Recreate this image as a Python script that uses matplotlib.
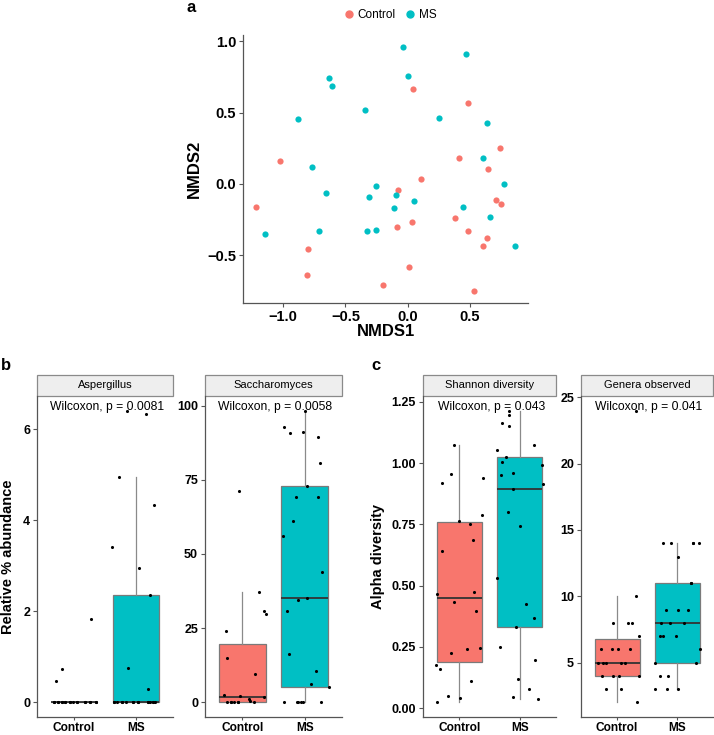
import matplotlib
matplotlib.use('Agg')
import matplotlib.pyplot as plt
import numpy as np
from matplotlib.patches import Rectangle
from matplotlib.lines import Line2D

plt.rcParams['font.family'] = ['Liberation Sans', 'DejaVu Sans']

# ---------------- data ----------------
groups = ['Control', 'MS']

ctrl_nmds1 = [0.04, 0.49, 0.74, 0.41, -1.03, -1.22, -0.075, 0.11, 0.645, 0.71, 0.75, 0.38, 0.035,
              -0.083, 0.49, 0.64, 0.61, -0.80, -0.81, 0.01, -0.196, 0.535]
ctrl_nmds2 = [0.67, 0.57, 0.25, 0.18, 0.16, -0.16, -0.04, 0.035, 0.105, -0.115, -0.14, -0.24, -0.27,
              -0.30, -0.33, -0.38, -0.435, -0.46, -0.64, -0.58, -0.71, -0.75]
ms_nmds1 = [-0.04, 0.47, -0.63, -0.61, 0.0, -0.34, -0.88, 0.25, 0.64, 0.61, -0.77, -0.66, -0.25,
            -0.31, -0.094, -0.11, 0.05, 0.775, 0.446, 0.66, -1.15, -0.71, -0.33, -0.25, 0.865]
ms_nmds2 = [0.96, 0.91, 0.745, 0.69, 0.76, 0.52, 0.455, 0.46, 0.43, 0.18, 0.12, -0.06, -0.016,
            -0.09, -0.08, -0.17, -0.12, -0.003, -0.16, -0.23, -0.35, -0.33, -0.33, -0.32, -0.435]

asp_ctrl = [0.46, 0.74, 1.83, 0, 0, 0, 0, 0, 0, 0, 0, 0, 0, 0, 0, 0, 0, 0, 0, 0, 0, 0]
asp_ctrl_jit = [-0.29, -0.20, 0.27, -0.32, -0.26, -0.20, -0.14, -0.07, -0.01, 0.05, 0.17, 0.25, 0.35,
                -0.32, -0.20, -0.07, 0.05, 0.17, 0.25, -0.14, -0.26, 0.35]
asp_ms = [6.41, 6.33, 4.96, 4.34, 3.42, 2.96, 2.36, 0.75, 0.29,
          0, 0, 0, 0, 0, 0, 0, 0, 0, 0, 0, 0, 0, 0, 0, 0]
asp_ms_jit = [-0.14, 0.16, -0.28, 0.30, -0.38, 0.05, 0.23, -0.12, 0.20,
              -0.36, -0.31, -0.23, -0.16, -0.05, 0.03, 0.19, 0.23, 0.28, 0.31, -0.36, -0.23, -0.05, 0.19, 0.28, 0.03]

sac_ctrl = [71.3, 37.3, 30.8, 29.7, 24.1, 15.0, 9.6, 2.4, 2.2, 1.9, 1.3, 0.6, 0, 0, 0, 0, 0, 0, 0]
sac_ctrl_jit = [-0.06, 0.27, 0.34, 0.38, -0.27, -0.25, 0.20, -0.29, -0.03, 0.35, 0.11, 0.12,
                -0.25, -0.19, -0.13, -0.07, 0.19, -0.19, -0.07]
sac_ms = [98.3, 92.8, 90.8, 91.1, 89.3, 80.7, 73.0, 69.3, 69.1, 61.1, 56.1, 44.0, 34.4, 35.3, 30.7,
          16.2, 10.6, 6.2, 5.1, 0.1, 0, 0, 0, 0, 0.3]
sac_ms_jit = [0.01, -0.33, -0.24, -0.02, 0.21, 0.25, 0.04, -0.14, 0.22, -0.18, -0.34, 0.28, -0.11, 0.03,
              -0.29, -0.25, 0.18, 0.11, 0.39, -0.33, -0.13, -0.10, -0.06, -0.03, 0.27]

sha_ctrl = [1.074, 0.954, 0.919, 0.938, 0.788, 0.762, 0.750, 0.687, 0.641, 0.466, 0.473, 0.431, 0.398,
            0.226, 0.241, 0.246, 0.176, 0.160, 0.112, 0.048, 0.042, 0.023]
sha_ctrl_jit = [-0.08, -0.13, -0.28, 0.39, 0.38, 0.0, 0.17, 0.23, -0.29, -0.37, 0.25, -0.09, 0.28,
                -0.13, 0.12, 0.34, -0.38, -0.32, 0.19, -0.18, 0.02, -0.37]
sha_ms = [1.214, 1.198, 1.163, 1.151, 1.075, 1.055, 1.026, 1.005, 0.993, 0.953, 0.958, 0.914, 0.894,
          0.801, 0.741, 0.531, 0.426, 0.368, 0.329, 0.251, 0.195, 0.117, 0.078, 0.047, 0.038]
sha_ms_jit = [-0.18, -0.17, -0.29, -0.17, 0.24, -0.37, -0.23, -0.29, 0.37, -0.31, -0.11, 0.38, -0.11,
              -0.20, 0.0, -0.37, 0.10, 0.23, -0.06, -0.32, 0.26, -0.03, 0.16, -0.11, 0.31]

gen_ctrl = [10, 8, 8, 8, 7, 6, 6, 6, 6, 5, 5, 5, 5, 5, 4, 4, 4, 4, 3, 3, 2, 24]
gen_ctrl_jit = [0.31, -0.07, 0.18, 0.25, 0.36, -0.27, -0.09, 0.01, 0.21, -0.32, -0.23, -0.19, 0.06, 0.14,
                -0.25, -0.06, 0.04, 0.36, -0.18, 0.07, 0.33, 0.32]
gen_ms = [14, 14, 14, 14, 13, 11, 9, 9, 9, 8, 8, 8, 7, 7, 7, 6, 5, 5, 4, 4, 3, 3, 3, 11, 14]
gen_ms_jit = [-0.23, -0.10, 0.26, 0.36, 0.01, 0.23, -0.19, 0.01, 0.19, -0.27, -0.11, 0.11, -0.28, -0.23,
              -0.02, 0.38, -0.36, 0.32, -0.29, -0.15, -0.36, -0.16, 0.01, 0.23, 0.26]

asp_ticks = [0, 2, 4, 6]
sac_ticks = [0, 25, 50, 75, 100]
sha_ticks = [0.0, 0.25, 0.5, 0.75, 1.0, 1.25]
gen_ticks = [5, 10, 15, 20, 25]

# ---------------- style ----------------
CTRL = '#F8766D'
MSC = '#00BFC4'
AXC = '#555555'
W, H = 714, 735
fig = plt.figure(figsize=(W / 100, H / 100), dpi=100)


def ax_px(l, r, t, b):
    return fig.add_axes([l / W, 1 - b / H, (r - l) / W, (b - t) / H])


def style_axes(ax, size, pad=2):
    for s in ['top', 'right']:
        ax.spines[s].set_visible(False)
    for s in ['left', 'bottom']:
        ax.spines[s].set_color(AXC)
        ax.spines[s].set_linewidth(0.9)
    ax.tick_params(colors=AXC, labelcolor='black', length=3, width=0.8, labelsize=size, pad=pad)
    for lab in ax.get_xticklabels() + ax.get_yticklabels():
        lab.set_fontweight('bold')


def expand(vals):
    lo, hi = min(vals), max(vals)
    r = hi - lo
    return lo - 0.05 * r, hi + 0.05 * r


# ---------------- panel a ----------------
ax = ax_px(243, 528, 35, 303)
ax.scatter(ctrl_nmds1, ctrl_nmds2, s=20, color=CTRL, linewidths=0, zorder=3)
ax.scatter(ms_nmds1, ms_nmds2, s=20, color=MSC, linewidths=0, zorder=3)
ax.set_xlim(*expand(ctrl_nmds1 + ms_nmds1))
ax.set_ylim(*expand(ctrl_nmds2 + ms_nmds2))
ax.set_xticks([-1.0, -0.5, 0.0, 0.5])
ax.set_yticks([-0.5, 0.0, 0.5, 1.0])
ax.set_xticklabels(['\u22121.0', '\u22120.5', '0.0', '0.5'])
ax.set_yticklabels(['\u22120.5', '0.0', '0.5', '1.0'])
style_axes(ax, 10.5)
ax.set_xlabel('NMDS1', fontsize=12, fontweight='bold', labelpad=0)
ax.set_ylabel('NMDS2', fontsize=12, fontweight='bold', labelpad=4)
handles = [Line2D([], [], marker='o', ls='', color=CTRL, markersize=5, label='Control'),
           Line2D([], [], marker='o', ls='', color=MSC, markersize=5, label='MS')]
fig.legend(handles=handles, loc='center', bbox_to_anchor=(389 / W, 1 - 15 / H), ncol=2, frameon=False,
           fontsize=8.5, handletextpad=0.1, columnspacing=0.7, handlelength=1.2)
fig.text(191 / W, 1 - 7 / H, 'a', fontsize=12, fontweight='bold', ha='center', va='center')

BOT = 717
TOP = 396


# ---------------- box panels ----------------
def facet(l, r, ctrl, cj, ms, mj, title, ptxt, ticks, ticklabels):
    ax = ax_px(l, r, TOP, BOT)
    hpx = BOT - TOP
    bp = ax.boxplot([ctrl, ms], positions=[1, 2], widths=0.75, patch_artist=True, showfliers=False,
                    whis=1.5, showcaps=False,
                    boxprops=dict(edgecolor='#7a7a7a', linewidth=0.9),
                    medianprops=dict(color='#333333', linewidth=1.3),
                    whiskerprops=dict(color='#8a8a8a', linewidth=0.9))
    for patch, c in zip(bp['boxes'], [CTRL, MSC]):
        patch.set_facecolor(c)
    ax.scatter([1 + o for o in cj], ctrl, s=5, color='black', linewidths=0, zorder=4)
    ax.scatter([2 + o for o in mj], ms, s=5, color='black', linewidths=0, zorder=4)
    ax.set_xlim(0.4, 2.6)
    ax.set_ylim(*expand(ctrl + ms))
    ax.set_xticks([1, 2])
    ax.set_xticklabels(groups)
    ax.set_yticks(ticks)
    ax.set_yticklabels(ticklabels)
    style_axes(ax, 9)
    ax.tick_params(axis='x', labelsize=8.6, pad=1, length=2.5)
    sh = 21 / hpx
    ax.add_patch(Rectangle((0, 1), 1, sh, transform=ax.transAxes, clip_on=False,
                           facecolor='#EEEEEE', edgecolor='#8a8a8a', linewidth=0.9))
    ax.text(0.5, 1 + sh / 2, title, transform=ax.transAxes, ha='center', va='center', fontsize=8)
    ax.text(0.515, 1 - 11 / hpx, ptxt, transform=ax.transAxes, ha='center', va='center', fontsize=8.7)
    return ax


a1 = facet(37, 173, asp_ctrl, asp_ctrl_jit, asp_ms, asp_ms_jit, 'Aspergillus', 'Wilcoxon, p = 0.0081',
           asp_ticks, [str(t) for t in asp_ticks])
a1.set_ylabel('Relative % abundance', fontsize=10.5, fontweight='bold', labelpad=6)
facet(205, 342, sac_ctrl, sac_ctrl_jit, sac_ms, sac_ms_jit, 'Saccharomyces', 'Wilcoxon, p = 0.0058',
      sac_ticks, [str(t) for t in sac_ticks])
a3 = facet(423, 556, sha_ctrl, sha_ctrl_jit, sha_ms, sha_ms_jit, 'Shannon diversity', 'Wilcoxon, p = 0.043',
           sha_ticks, ['%.2f' % t for t in sha_ticks])
a3.set_ylabel('Alpha diversity', fontsize=10.5, fontweight='bold', labelpad=5)
facet(581, 713, gen_ctrl, gen_ctrl_jit, gen_ms, gen_ms_jit, 'Genera observed', 'Wilcoxon, p = 0.041',
      gen_ticks, [str(t) for t in gen_ticks])

fig.text(6 / W, 1 - 365 / H, 'b', fontsize=12, fontweight='bold', ha='center', va='center')
fig.text(376 / W, 1 - 366 / H, 'c', fontsize=12, fontweight='bold', ha='center', va='center')

fig.savefig('out.png', dpi=100)
